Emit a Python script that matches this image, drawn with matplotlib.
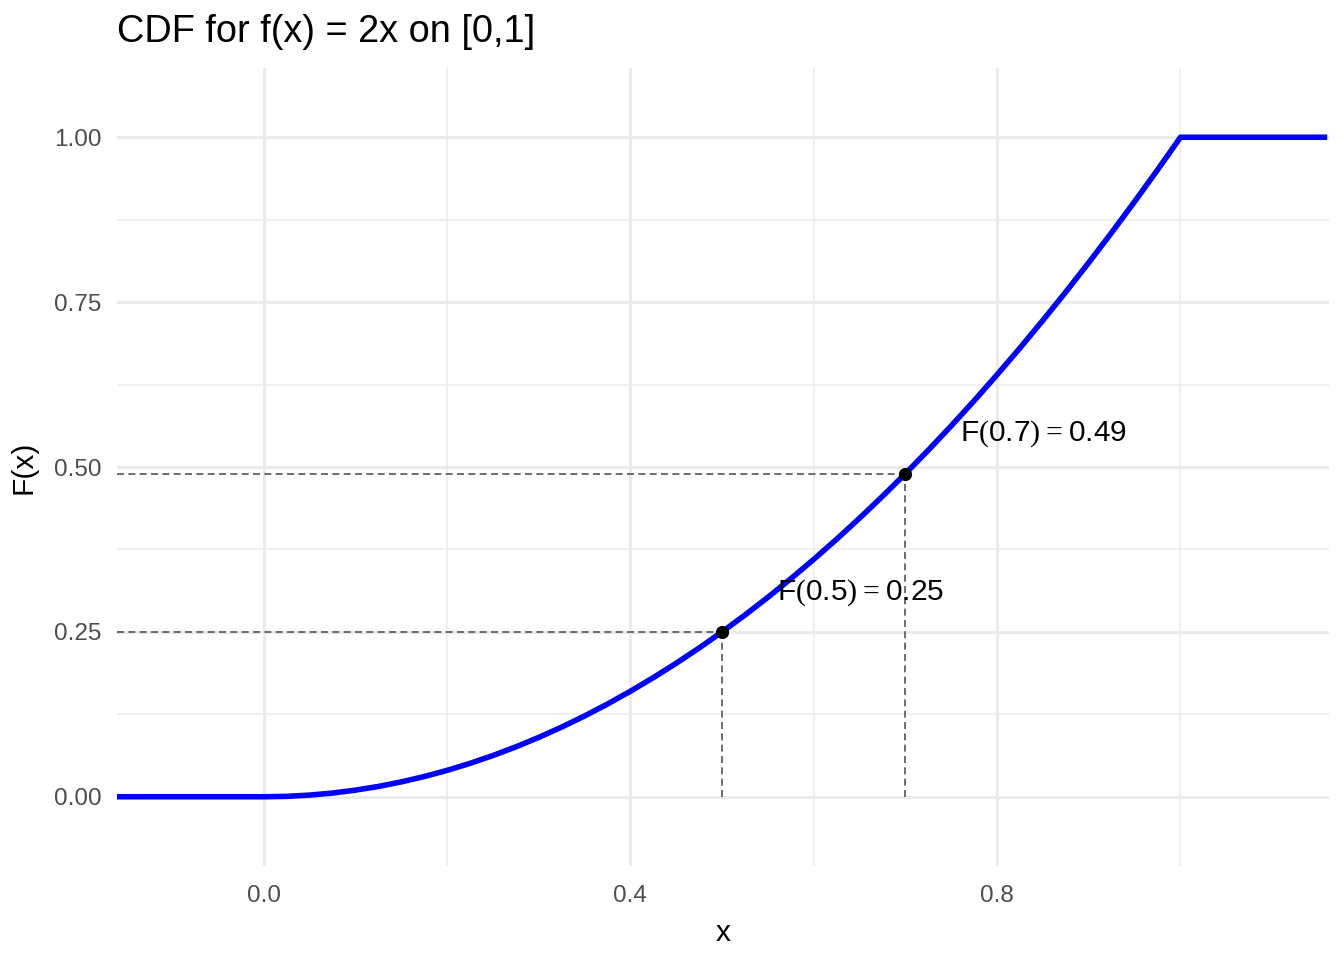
import matplotlib
matplotlib.use("Agg")
import matplotlib.pyplot as plt

# CDF values
x_vals = [-0.16, 0.0, 0.025, 0.05, 0.075, 0.10, 0.125, 0.15, 0.175, 0.20, 0.225, 0.25,
          0.275, 0.30, 0.325, 0.35, 0.375, 0.40, 0.425, 0.45, 0.475, 0.50, 0.525,
          0.55, 0.575, 0.60, 0.625, 0.65, 0.675, 0.70, 0.725, 0.75, 0.775, 0.80,
          0.825, 0.85, 0.875, 0.90, 0.925, 0.95, 0.975, 1.00, 1.16]
F_vals = [0.0, 0.0, 0.0006, 0.0025, 0.0056, 0.01, 0.0156, 0.0225, 0.0306, 0.04, 0.0506, 0.0625,
          0.0756, 0.09, 0.1056, 0.1225, 0.1406, 0.16, 0.1806, 0.2025, 0.2256, 0.25, 0.2756,
          0.3025, 0.3306, 0.36, 0.3906, 0.4225, 0.4556, 0.49, 0.5256, 0.5625, 0.6006, 0.64,
          0.6806, 0.7225, 0.7656, 0.81, 0.8556, 0.9025, 0.9506, 1.0, 1.0]

# marked points
mark_x = [0.5, 0.7]
mark_F = [0.25, 0.49]
mark_labels = [r"$\mathsf{F}\mathrm{(}\mathsf{0.5}\mathrm{)} = \mathsf{0.25}$",
               r"$\mathsf{F}\mathrm{(}\mathsf{0.7}\mathrm{)} = \mathsf{0.49}$"]

x_major = [0.0, 0.4, 0.8]
x_minor = [0.2, 0.6, 1.0]
y_major = [0.0, 0.25, 0.50, 0.75, 1.00]
y_minor = [0.125, 0.375, 0.625, 0.875]

plt.rcParams["font.family"] = ["Liberation Sans", "DejaVu Sans"]
plt.rcParams["mathtext.fontset"] = "custom"
plt.rcParams["mathtext.rm"] = "Liberation Serif"
plt.rcParams["mathtext.sf"] = "Liberation Sans"

W, H = 1344, 960
fig = plt.figure(figsize=(W / 100, H / 100), dpi=100)
ax = fig.add_axes([117 / W, (H - 866) / H, (1329 - 117) / W, (866 - 68) / H])

X_LIM = (-0.16, 1.162)
Y_LIM = (-0.105, 1.105)
ax.set_xlim(*X_LIM)
ax.set_ylim(*Y_LIM)

# ========== grid ==========
for v in x_major:
    ax.axvline(v, color="#EBEBEB", lw=2.2, zorder=0)
for v in x_minor:
    ax.axvline(v, color="#EBEBEB", lw=1.1, zorder=0)
for v in y_major:
    ax.axhline(v, color="#EBEBEB", lw=2.2, zorder=0)
for v in y_minor:
    ax.axhline(v, color="#EBEBEB", lw=1.1, zorder=0)

# ========== guides ==========
for xm, fm in zip(mark_x, mark_F):
    ax.plot([X_LIM[0], xm], [fm, fm], color="#555555", lw=1.2, dashes=(4.2, 2.6), zorder=1)
    ax.plot([xm, xm], [0, fm], color="#555555", lw=1.2, dashes=(4.2, 2.6), zorder=1)

# ========== curve ==========
ax.plot(x_vals, F_vals, color="#0000FF", lw=4.0, solid_capstyle="butt",
        solid_joinstyle="round", zorder=2)
ax.plot(mark_x, mark_F, "o", color="black", ms=8.5, zorder=3)

for xm, fm, lab in zip(mark_x, mark_F, mark_labels):
    ax.text(xm + 0.06, fm + 0.06, lab, fontsize=21.5, ha="left", va="center", zorder=4)

# ========== axes styling ==========
for s in ax.spines.values():
    s.set_visible(False)
ax.set_xticks(x_major)
ax.set_xticklabels(["0.0", "0.4", "0.8"])
ax.set_yticks(y_major)
ax.set_yticklabels(["0.00", "0.25", "0.50", "0.75", "1.00"])
ax.tick_params(length=0, labelsize=17.5, labelcolor="#4D4D4D")
ax.tick_params(axis="x", pad=14)
ax.tick_params(axis="y", pad=11)

ax.set_xlabel("x", fontsize=21.5, labelpad=8)
ax.set_ylabel("F(x)", fontsize=21.5, labelpad=12)

fig.text(117 / W, 1 - 32 / H, "CDF for f(x) = 2x on [0,1]", fontsize=27.3,
         ha="left", va="center")

fig.savefig("out.png", dpi=100)
